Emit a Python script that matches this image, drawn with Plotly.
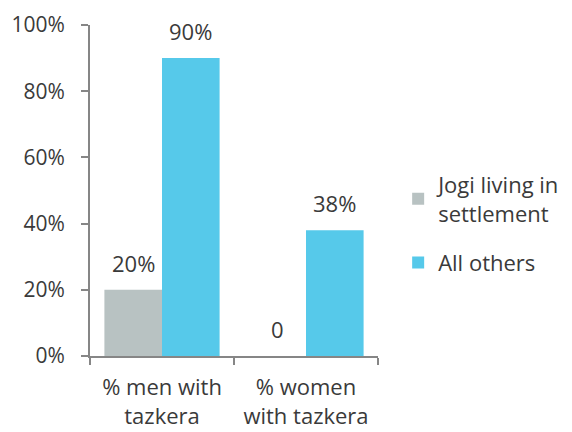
import plotly.graph_objects as go

categories = ["% men with<br>tazkera", "% women<br>with tazkera"]
series_names = ["Jogi living in<br>settlement", "All others"]
jogi_values = [20, 0]
others_values = [90, 38]
y_tick_values = [0, 20, 40, 60, 80, 100]
y_tick_labels = ["0%", "20%", "40%", "60%", "80%", "100%"]

colors = ["#b8c2c2", "#56c9ea"]
font_family = "Open Sans, Liberation Sans, sans-serif"
text_color = "#3a3a3a"
fs = 22

def labels(vals):
    return ["0" if v == 0 else f"{v}%" for v in vals]

fig = go.Figure()
all_series = [jogi_values, others_values]
for i, (name, vals, col) in enumerate(zip(series_names, all_series, colors)):
    fig.add_trace(go.Bar(
        x=categories, y=vals, name=name, legendgroup=f"g{i}",
        marker=dict(color=col, line=dict(width=0)),
    ))

ml, mr, mt, mb = 82, 202, 17, 84
plot_w = 572 - ml - mr
cat_w = plot_w / len(categories)
bar_w = cat_w * 0.8 / len(all_series)
for i, vals in enumerate(all_series):
    offset = (i - (len(all_series) - 1) / 2) * bar_w
    for cat, v, lab in zip(categories, vals, labels(vals)):
        fig.add_annotation(x=cat, y=v, text=lab, showarrow=False,
                           xshift=offset, yanchor="bottom", yshift=10,
                           font=dict(size=fs, color=text_color, family=font_family))

fig.update_layout(
    width=572, height=432,
    margin=dict(l=ml, r=mr, t=mt, b=mb, autoexpand=False),
    plot_bgcolor="white", paper_bgcolor="white",
    barmode="group", bargap=0.2, bargroupgap=0,
    font=dict(family=font_family, size=fs, color=text_color),
    showlegend=True,
    legend=dict(x=1.07, y=0.4, xanchor="left", yanchor="middle",
                font=dict(size=fs, color=text_color), tracegroupgap=18,
                itemwidth=30),
)
fig.update_yaxes(range=[0, 100], tickvals=y_tick_values, ticktext=y_tick_labels,
                 showgrid=False, showline=True, linecolor="#868686", linewidth=2,
                 ticks="outside", ticklen=7, tickcolor="#868686", tickwidth=2,
                 zeroline=False, automargin=False, ticklabelstandoff=12,
                 ticklabeloverflow="allow",
                 tickfont=dict(size=21, color=text_color))
fig.update_xaxes(showline=True, linecolor="#868686", linewidth=2, ticks="outside",
                 tickson="boundaries", ticklen=7, tickcolor="#868686", tickwidth=2,
                 automargin=False, ticklabelstandoff=11, ticklabeloverflow="allow",
                 tickfont=dict(size=fs, color=text_color))

fig.write_html("out.html")
